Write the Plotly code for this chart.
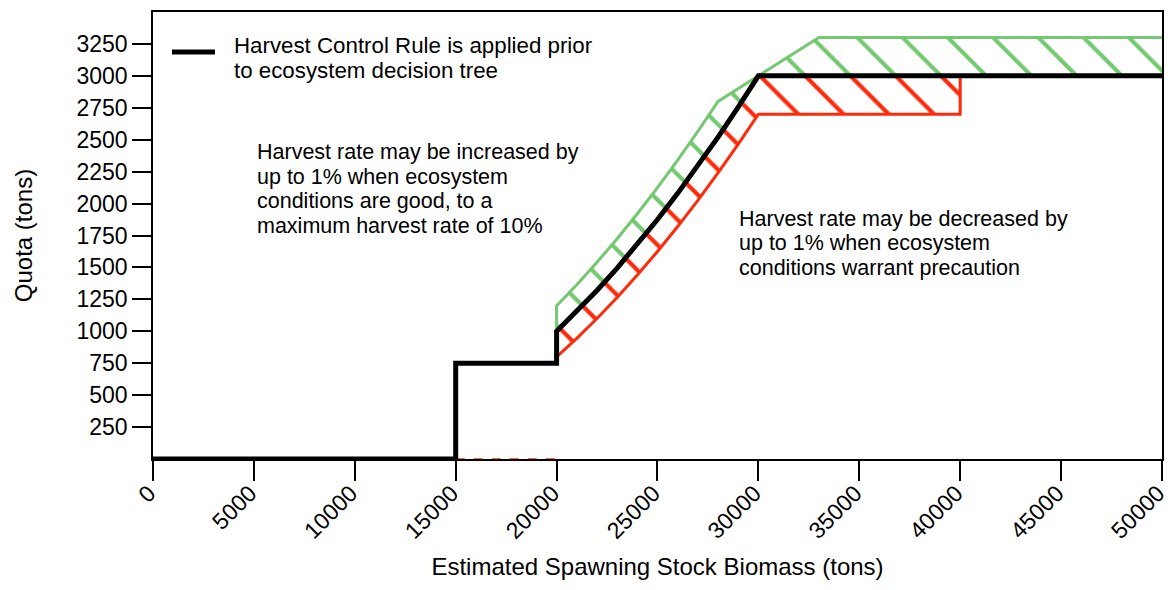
import plotly.graph_objects as go

# biomass steps along the ramp of the control rule
ramp_biomass = [20000, 21000, 22000, 23000, 24000, 25000, 26000, 27000, 28000, 29000, 30000]
hcr_ramp = [1000, 1155, 1320, 1495, 1680, 1875, 2080, 2295, 2520, 2755, 3000]
lower_ramp = [800, 945, 1100, 1265, 1440, 1625, 1820, 2025, 2240, 2465, 2700]

# harvest control rule (black line)
hcr_x = [0, 15000, 15000, 20000] + ramp_biomass + [50000]
hcr_y = [0, 0, 750, 750] + hcr_ramp + [3000]

# upper bound: rate +1%, capped at 10%
upper_x = [20000, 20000, 21000, 22000, 23000, 24000, 25000, 26000, 27000, 28000, 33000, 50000]
upper_y = [1000, 1200, 1365, 1540, 1725, 1920, 2125, 2340, 2565, 2800, 3300, 3300]

# lower bound: rate -1%
lower_x = [20000, 20000] + ramp_biomass + [40000, 40000]
lower_y = [1000, 800] + lower_ramp + [2700, 3000]

# dashed red piece along the bottom
dash_x = [15000, 20000]
dash_y = [0, 0]

y_ticks = [250, 500, 750, 1000, 1250, 1500, 1750, 2000, 2250, 2500, 2750, 3000, 3250]
x_ticks = [0, 5000, 10000, 15000, 20000, 25000, 30000, 35000, 40000, 45000, 50000]

legend_lines = ['Harvest Control Rule is applied prior', 'to ecosystem decision tree']
increase_lines = ['Harvest rate may be increased by', 'up to 1% when ecosystem',
                  'conditions are good, to a', 'maximum harvest rate of 10%']
decrease_lines = ['Harvest rate may be decreased by', 'up to 1% when ecosystem',
                  'conditions warrant precaution']

green = '#74c871'
red = '#ff2a0a'
font_family = 'Liberation Sans, Arial, sans-serif'

# polygons for hatched areas: bound path, then back along the black rule
ramp_back_x = ramp_biomass[::-1]
ramp_back_y = hcr_ramp[::-1]
green_fill_x = upper_x[1:] + [50000] + ramp_back_x
green_fill_y = upper_y[1:] + [3000] + ramp_back_y
red_fill_x = lower_x[1:] + ramp_back_x
red_fill_y = lower_y[1:] + ramp_back_y

fig = go.Figure()

hatch = {'shape': '\\', 'bgcolor': 'rgba(0,0,0,0)', 'size': 32, 'solidity': 0.13, 'fgopacity': 1}
fig.add_trace(go.Scatter(x=green_fill_x, y=green_fill_y, mode='lines', fill='toself',
                         line={'width': 0, 'color': green}, fillcolor='rgba(0,0,0,0)',
                         fillpattern=dict(hatch, fgcolor=green),
                         showlegend=False, hoverinfo='skip'))
fig.add_trace(go.Scatter(x=red_fill_x, y=red_fill_y, mode='lines', fill='toself',
                         line={'width': 0, 'color': red}, fillcolor='rgba(0,0,0,0)',
                         fillpattern=dict(hatch, fgcolor=red),
                         showlegend=False, hoverinfo='skip'))

fig.add_trace(go.Scatter(x=upper_x, y=upper_y, mode='lines', line={'color': green, 'width': 3}))
fig.add_trace(go.Scatter(x=lower_x, y=lower_y, mode='lines', line={'color': red, 'width': 3}))
fig.add_trace(go.Scatter(x=dash_x, y=dash_y, mode='lines', line={'color': red, 'width': 1.5, 'dash': 'dash'},
                         cliponaxis=False))
fig.add_trace(go.Scatter(x=hcr_x, y=hcr_y, mode='lines', line={'color': 'black', 'width': 5},
                         cliponaxis=False))

# hand-made legend entry
fig.add_shape(type='line', xref='paper', yref='paper', x0=0.0188, x1=0.0614, y0=0.9105, y1=0.9105,
              line={'color': 'black', 'width': 5})
for i, line in enumerate(legend_lines):
    fig.add_annotation(x=0.0783, y=0.926, xref='paper', yref='paper', xanchor='left', yanchor='middle',
                       yshift=-25 * i, showarrow=False, text=line,
                       font={'size': 22.3, 'color': 'black', 'family': font_family})

for i, line in enumerate(increase_lines):
    fig.add_annotation(x=5060, y=2400, xref='x', yref='y', xanchor='left', yanchor='middle',
                       yshift=-24.5 * i, showarrow=False, text=line,
                       font={'size': 21.5, 'color': 'black', 'family': font_family})
for i, line in enumerate(decrease_lines):
    fig.add_annotation(x=28950, y=1880, xref='x', yref='y', xanchor='left', yanchor='middle',
                       yshift=-24.5 * i, showarrow=False, text=line,
                       font={'size': 21.5, 'color': 'black', 'family': font_family})

fig.update_layout(width=1168, height=590,
                  margin={'l': 153, 'r': 6, 't': 12, 'b': 131},
                  plot_bgcolor='white', paper_bgcolor='white',
                  font={'family': font_family, 'size': 22, 'color': 'black'},
                  showlegend=False)

fig.update_xaxes(range=[0, 50001], tickvals=x_ticks, ticktext=[str(v) for v in x_ticks],
                 tickangle=-45, ticks='outside', ticklen=20, tickwidth=1.5, tickcolor='black',
                 showline=True, linecolor='black', linewidth=1.5, mirror=True, automargin=False,
                 showgrid=False, zeroline=False, tickfont={'size': 23}, ticklabelstandoff=-10,
                 ticklabelshift=-4, ticklabeloverflow='allow',
                 title={'text': 'Estimated Spawning Stock Biomass (tons)', 'font': {'size': 24},
                        'standoff': 15})
fig.update_yaxes(range=[0, 3500], tickvals=y_ticks, ticktext=[str(v) for v in y_ticks],
                 ticks='outside', ticklen=19, tickwidth=1.5, tickcolor='black',
                 showline=True, linecolor='black', linewidth=1.5, mirror=True, automargin=False,
                 showgrid=False, zeroline=False, tickfont={'size': 23},
                 title={'text': 'Quota (tons)', 'font': {'size': 24}, 'standoff': 37})

# drop the page's default body margin so the figure fills the window exactly
fig.write_html('out.html', config={'displayModeBar': False},
               post_script="document.body.style.margin='0';document.body.style.overflow='hidden';")
